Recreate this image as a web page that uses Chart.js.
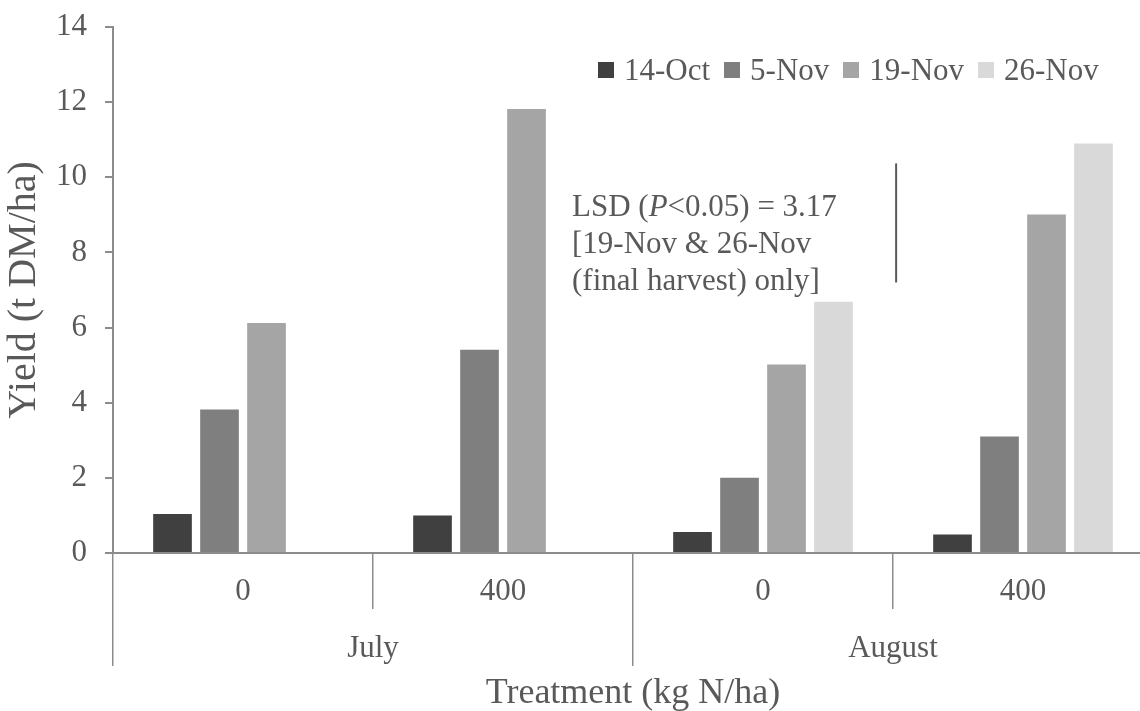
<!DOCTYPE html>
<html>
<head>
<meta charset="utf-8">
<script src="https://cdn.jsdelivr.net/npm/chart.js@4"></script>
<style>
  html, body { margin: 0; padding: 0; background: #fff; overflow: hidden; }
  #wrap { position: relative; width: 1160px; height: 711px; }
  #legend {
    position: absolute; left: 598px; top: 54px;
    display: flex; align-items: flex-start;
    font: 31px/31px 'Liberation Serif', serif; color: #595959;
  }
  #legend .item { display: flex; align-items: flex-start; margin-right: 14px; white-space: nowrap; }
  #legend .box { width: 16px; height: 16px; margin-top: 8px; margin-right: 10px; }
  #lsd {
    position: absolute; left: 572px; top: 187px;
    font: 31px/37px 'Liberation Serif', serif; color: #595959; white-space: nowrap;
  }
</style>
</head>
<body>
<div id="wrap">
  <canvas id="yieldChart"></canvas>
  <div id="legend"></div>
  <div id="lsd">LSD (<i>P</i>&lt;0.05) = 3.17<br>[19-Nov &amp; 26-Nov<br>(final harvest) only]</div>
</div>
<script>
// data
const treatments = ['0', '400', '0', '400'];
const months = ['July', 'August'];
const harvests = ['14-Oct', '5-Nov', '19-Nov', '26-Nov'];
const oct14 = [1.04, 1.00, 0.56, 0.49];
const nov5 = [3.82, 5.41, 2.00, 3.10];
const nov19 = [6.12, 11.82, 5.02, 9.01];
const nov26 = [null, null, 6.69, 10.90];
const yTicks = [0, 2, 4, 6, 8, 10, 12, 14];
const lsdValue = 3.17;
const lsdTop = 10.37;

const colors = ['#404040', '#7f7f7f', '#a5a5a5', '#d9d9d9'];
const axisGrey = '#8c8c8c';
const textGrey = '#595959';
const serif = "'Liberation Serif', serif";

// vertical LSD bar, placed with the chart's own scales
const lsdLine = {
  id: 'lsdLine',
  afterDatasetsDraw(chart) {
    const x = chart.scales.x;
    const y = chart.scales.y;
    const catW = x.getPixelForValue(1) - x.getPixelForValue(0);
    const px = x.getPixelForValue(2) + catW * 0.512;
    const ctx = chart.ctx;
    ctx.save();
    ctx.strokeStyle = textGrey;
    ctx.lineWidth = 2;
    ctx.beginPath();
    ctx.moveTo(px, y.getPixelForValue(lsdTop));
    ctx.lineTo(px, y.getPixelForValue(lsdTop - lsdValue));
    ctx.stroke();
    ctx.restore();
  }
};

const ctx = document.getElementById('yieldChart').getContext('2d');
const chart = new Chart(ctx, {
  type: 'bar',
  data: {
    labels: treatments,
    datasets: [oct14, nov5, nov19, nov26].map((d, i) => ({
      label: harvests[i],
      data: d,
      backgroundColor: colors[i],
      borderWidth: 0,
      categoryPercentage: 0.723,
      barPercentage: 0.823
    }))
  },
  options: {
    responsive: true,
    maintainAspectRatio: false,
    animation: false,
    layout: { padding: { left: 0, right: 7, top: 27, bottom: 0 } },
    plugins: {
      legend: { display: false },
      tooltip: { enabled: false }
    },
    scales: {
      y: {
        min: 0, max: 14,
        afterBuildTicks: s => { s.ticks = yTicks.map(v => ({ value: v })); },
        afterFit: s => { s.width = 113; s.paddingTop = 0; s.paddingBottom = 0; },
        border: { display: true, color: axisGrey, width: 2 },
        grid: { drawOnChartArea: false, drawTicks: true, tickLength: 8, color: axisGrey, lineWidth: 2 },
        ticks: { color: textGrey, padding: 18, font: { family: serif, size: 31 } },
        title: {
          display: true, text: 'Yield (t DM/ha)', color: textGrey,
          font: { family: serif, size: 40, lineHeight: 1.2 },
          padding: { top: 0.5, bottom: 0 }
        }
      },
      x: {
        weight: 0,
        afterFit: s => { s.height = 56; },
        border: { display: true, color: axisGrey, width: 2 },
        grid: { offset: true, drawOnChartArea: false, drawTicks: true, tickLength: 56, color: axisGrey, lineWidth: 1.5 },
        ticks: { color: textGrey, padding: -36, maxRotation: 0, autoSkip: false, font: { family: serif, size: 31, lineHeight: 1.2 } }
      },
      x2: {
        type: 'category',
        labels: months,
        position: 'bottom',
        weight: 1,
        offset: true,
        afterFit: s => { s.height = 102; },
        border: { display: false },
        grid: { offset: true, drawOnChartArea: false, drawTicks: true, tickLength: 57, color: axisGrey, lineWidth: 1.5 },
        ticks: { color: textGrey, padding: -36, maxRotation: 0, autoSkip: false, font: { family: serif, size: 31, lineHeight: 1.2 } },
        title: {
          display: true, text: 'Treatment (kg N/ha)', color: textGrey,
          font: { family: serif, size: 36, lineHeight: 1.2 },
          padding: { top: 0, bottom: -4 }
        }
      }
    }
  },
  plugins: [lsdLine]
});

// html legend built from the datasets
const legendEl = document.getElementById('legend');
chart.data.datasets.forEach(ds => {
  const item = document.createElement('div');
  item.className = 'item';
  const box = document.createElement('span');
  box.className = 'box';
  box.style.background = ds.backgroundColor;
  const label = document.createElement('span');
  label.textContent = ds.label;
  item.appendChild(box);
  item.appendChild(label);
  legendEl.appendChild(item);
});
</script>
</body>
</html>
